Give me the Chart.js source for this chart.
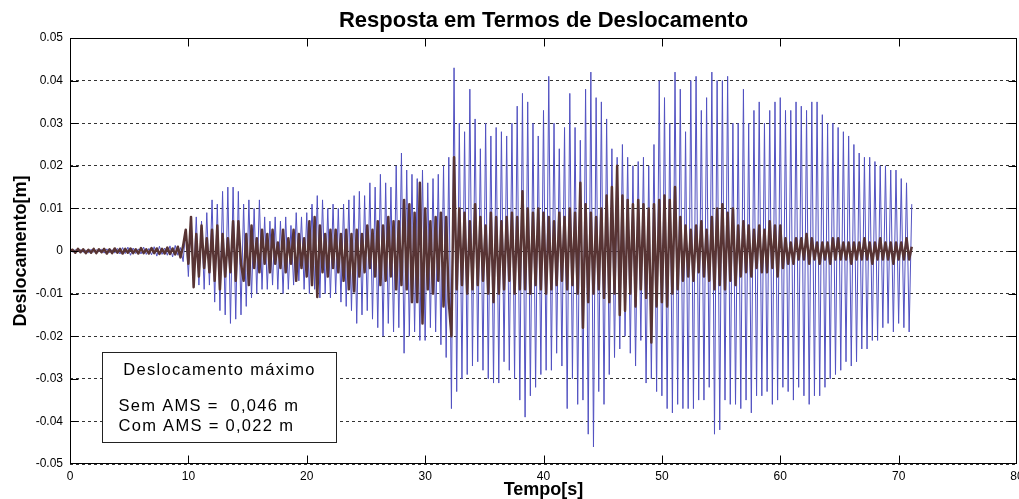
<!DOCTYPE html>
<html>
<head>
<meta charset="utf-8">
<script src="https://cdn.jsdelivr.net/npm/chart.js@4.4.1/dist/chart.umd.min.js"></script>
<style>
  html, body { margin: 0; padding: 0; background: #fff; }
  canvas { display: block; }
</style>
</head>
<body>
<canvas id="c" width="1019" height="499"></canvas>
<script>
// Time between successive response peaks (half periods), in seconds
const SAMPLE_STEP_S = 10 / 45;

// Displacement peaks without the damper (mm), one row per 10 s
const semAmsMm = [
  // 0 - 10 s
  0, -0.2, 0.3, -0.2, 0.3, -0.3, 0.2, -0.4, 0.4, -0.3, 0.3, -0.2, 0.4, -0.5, 0.5, -0.4, 0.3, -0.5,
  0.6, -0.7, 0.8, -0.6, 0.9, -1.0, 0.7, -0.6, 0.5, -0.7, 0.9, -0.8, 0.6, -0.9, 1.0, -1.2, 1.1, -0.8, 0.7, -1.0, 1.2, -1.4, 1.3, -1.0, 0.8, -2.5, 5.0,
  // 10 - 20 s
  -6, 8, -7, 8, -8, 7, -9, 9, -8, 12,
  -12, 11, -14, 14, -15, 15, -17, 15, -16, 14,
  -15, 11, -13, 12, -11, 10, -10, 12, -9, 8,
  -9, 7, -8, 8, -9, 7, -10, 8, -9, 6,
  -8, 9, -7, 8, -9,
  // 20 - 30 s
  9, -10, 11, -9, 13, -11, 12, -10, 10, -11,
  11, -10, 10, -12, 11, -13, 12, -14, 13, -17,
  14, -15, 13, -14, 16, -16, 15, -18, 18, -20,
  16, -17, 15, -19, 20, -18, 23, -24, 19, -20,
  18, -19, 17, -21, 19,
  // 30 - 40 s
  -21, 16, -18, 17, -19, 18, -22, 20, -25, 22,
  -37, 43, -33, 30, -30, 28, -29, 38, -27, 31,
  -26, 24, -28, 30, -30, 27, -31, 29, -31, 28,
  -26, 27, -28, 30, -30, 34, -35, 37, -39, 35,
  -34, 30, -32, 27, -29,
  // 40 - 50 s
  33, -28, 41, -28, 30, -24, 24, -27, 29, -37,
  37, -30, 29, -36, 26, -35, 38, -43, 42, -46,
  36, -33, 35, -36, 31, -29, 24, -25, 22, -23,
  25, -20, 22, -24, 20, -27, 21, -21, 22, -31,
  20, -30, 25, -33, 40,
  // 50 - 60 s
  -34, 36, -37, 30, -38, 42, -36, 38, -37, 28,
  -37, 40, -37, 41, -35, 33, -35, 36, -32, 42,
  -43, 40, -42, 40, -35, 41, -36, 30, -36, 30,
  -37, 38, -35, 30, -38, 33, -34, 35, -34, 30,
  -33, 33, -36, 35, -35,
  // 60 - 71 s
  36, -32, 33, -33, 33, -35, 35, -32, 34, -34,
  33, -36, 35, -34, 35, -34, 32, -32, 30, -30,
  30, -29, 29, -28, 28, -26, 27, -27, 25, -26,
  23, -23, 22, -23, 22, -21, 21, -21, 20, -18,
  20, -17, 19, -19, 19, -17, 17, -18, 16, -19,
  11
];

// Displacement peaks with the damper (mm), one row per 10 s
const comAmsMm = [
  // 0 - 10 s
  0, 0.3, -0.4, 0.5, -0.3, 0.4, -0.5, 0.3, -0.4, 0.5,
  -0.5, 0.4, -0.3, 0.5, -0.6, 0.4, -0.5, 0.6, -0.4, 0.5,
  -0.6, 0.5, -0.4, 0.6, -0.5, 0.4, -0.6, 0.7, -0.5, 0.4,
  -0.6, 0.7, -0.5, 0.6, -0.7, 0.5, -0.6, 0.8, -0.7, 0.6,
  -0.8, 1.0, -1.5, 1.2, 5,
  // 10 - 20 s
  -3, 8, -8.5, 4, -6, 6, -4, 3, -5, 5,
  -7, 6, -9, 4, -6, 3, -5, 7, -7, 7,
  -3, -7, 4, -8, 6, -4, 3, -5, 5, -3,
  4, -5, 5, -3, 2, -4, 5, -5, 3, -3,
  5, -7, 4, -4, 3,
  // 20 - 30 s
  -6, 7, -8, 8, -10.8, 6, -5, 4, -6, 5,
  -4, 5, -5, 4, -7, 5, -9, 4, -9.5, 5,
  -6, 4, -5, 6, -4, 5, -6, 7, -8, 6,
  -7, 8, -6, 7, -9, 7, -8, 12, -9, 11,
  -12, 9, -12, 16, -17,
  // 30 - 40 s
  10, -9, 7, -10, 8, -7, 9, -13, 8, -12,
  -20, 22, -9, 10, -8, 9, -10, 7, -9, 11,
  -8, 8, -7, 6, -10, 9, -12, 8, -10, 7,
  -9, 8, -7, 9, -10, 8, -9, 14, -9, 10,
  -10, 9, -8, 10, -9,
  // 40 - 50 s
  9, -10, 8, -9, 7, -8, 9, -7, 8, -9,
  10, -8, 9, -10, 16, -18, 11, -12, 9, -10,
  8, -9, 10, -11, 13, -12, 15, -10, 20, -15,
  13, -14, 12, -10, 11, -13, 12, -9, 11, -11,
  10, -21.5, 11, -13, 12,
  // 50 - 60 s
  -12, 13, -13, 12, -10, 15, -9, 8, -7, 6,
  -6, 5, -7, 6, -5, 7, -6, 5, -7, 8,
  -9, 10, -8, 11, -9, 9, -7, 10, -8, 6,
  -6, 7, -5, 6, -6, 5, -4, 6, -5, 5,
  -5, 7, -4, 6, -6,
  // 60 - 71 s
  6, -4, 3, -3, 2, -3, 3, -2, 3, -2,
  4, -3, 3, -2, 2, -3, 2, -2, 2, -3,
  3, -2, 3, -2, 2, -2, 2, -3, 2, -2,
  2, -2, 3, -2, 2, -3, 2, -2, 3, -2,
  2, -2, 2, -3, 2, -2, 2, -2, 3, -2,
  1
];

const xTicks = [0, 10, 20, 30, 40, 50, 60, 70, 80];
const yTicks = [-0.05, -0.04, -0.03, -0.02, -0.01, 0, 0.01, 0.02, 0.03, 0.04, 0.05];

const chartTitle = 'Resposta em Termos de Deslocamento';
const xTitle = 'Tempo[s]';
const yTitle = 'Deslocamento[m]';
const boxTitle = 'Deslocamento máximo';
const boxLines = ['Sem AMS =  0,046 m', 'Com AMS = 0,022 m'];

const toSeries = mm => mm.map((v, i) => ({ x: i * SAMPLE_STEP_S, y: v / 1000 }));

const FONT = '"Liberation Sans", Arial, Helvetica, sans-serif';
Chart.defaults.font.family = FONT;
Chart.defaults.color = '#000';

// White page behind everything
const whiteBackground = {
  id: 'whiteBackground',
  beforeDraw(chart) {
    const { ctx, width, height } = chart;
    ctx.save();
    ctx.fillStyle = '#fff';
    ctx.fillRect(0, 0, width, height);
    ctx.restore();
  }
};

// Title centred over the plot area
const plotTitle = {
  id: 'plotTitle',
  afterDraw(chart) {
    const { ctx, chartArea: a } = chart;
    ctx.save();
    ctx.fillStyle = '#000';
    ctx.font = 'bold 22px ' + FONT;
    ctx.textAlign = 'center';
    ctx.textBaseline = 'alphabetic';
    ctx.fillText(chartTitle, (a.left + a.right) / 2, 27);
    ctx.restore();
  }
};

// Axes box with inward tick marks on all four sides
const axesBox = {
  id: 'axesBox',
  afterDatasetsDraw(chart) {
    const { ctx, chartArea: a, scales: { x, y } } = chart;
    const L = Math.round(a.left) + 0.5, R = Math.round(a.right) - 0.5;
    const T = Math.round(a.top) + 0.5, B = Math.round(a.bottom) - 0.5;
    ctx.save();
    ctx.strokeStyle = '#000';
    ctx.lineWidth = 1;
    ctx.strokeRect(L, T, R - L, B - T);
    ctx.beginPath();
    xTicks.slice(1, -1).forEach(v => {
      const px = Math.round(x.getPixelForValue(v)) + 0.5;
      ctx.moveTo(px, B); ctx.lineTo(px, B - 8);
      ctx.moveTo(px, T); ctx.lineTo(px, T + 8);
    });
    yTicks.slice(1, -1).forEach(v => {
      const py = Math.round(y.getPixelForValue(v)) + 0.5;
      ctx.moveTo(L, py); ctx.lineTo(L + 8, py);
      ctx.moveTo(R, py); ctx.lineTo(R - 8, py);
    });
    ctx.stroke();
    ctx.restore();
  }
};

// Annotation box with the peak displacements
const peakBox = {
  id: 'peakBox',
  afterDraw(chart) {
    const { ctx, chartArea: a } = chart;
    const bx = Math.round(a.left) + 32.5, by = Math.round(a.top) + 314.5;
    const bw = 234, bh = 90;
    ctx.save();
    ctx.fillStyle = '#fff';
    ctx.fillRect(bx, by, bw, bh);
    ctx.strokeStyle = '#222';
    ctx.lineWidth = 1;
    ctx.strokeRect(bx, by, bw, bh);
    ctx.fillStyle = '#000';
    ctx.font = '16.5px ' + FONT;
    ctx.letterSpacing = '1.3px';
    ctx.textBaseline = 'alphabetic';
    ctx.textAlign = 'center';
    ctx.fillText(boxTitle, bx + bw / 2, by + 22);
    ctx.textAlign = 'left';
    boxLines.forEach((line, i) => ctx.fillText(line, bx + 16, by + 58 + i * 20));
    ctx.restore();
  }
};

new Chart(document.getElementById('c'), {
  type: 'line',
  data: {
    datasets: [
      {
        label: 'Com AMS',
        data: toSeries(comAmsMm),
        borderColor: '#583434',
        borderWidth: 2.5,
        borderJoinStyle: 'round',
        pointRadius: 0,
        tension: 0,
        order: 1
      },
      {
        label: 'Sem AMS',
        data: toSeries(semAmsMm),
        borderColor: '#5252c2',
        borderWidth: 1,
        pointRadius: 0,
        tension: 0,
        order: 2
      }
    ]
  },
  options: {
    responsive: false,
    animation: false,
    devicePixelRatio: 1,
    events: [],
    layout: { padding: { left: 0, right: 2, top: 38, bottom: 0 } },
    plugins: {
      legend: { display: false },
      tooltip: { enabled: false },
      title: { display: false }
    },
    scales: {
      x: {
        type: 'linear',
        min: 0,
        max: 80,
        afterBuildTicks: s => { s.ticks = xTicks.map(v => ({ value: v })); },
        ticks: {
          color: '#000',
          font: { size: 12 },
          padding: 5,
          maxRotation: 0,
          autoSkip: false,
          callback: v => String(v)
        },
        grid: { display: false, drawTicks: false },
        border: { display: false },
        title: {
          display: true,
          text: xTitle,
          color: '#000',
          font: { size: 18, weight: 'bold', lineHeight: 1 },
          padding: { top: 0, bottom: 0 }
        },
        afterFit: s => { s.height = 35; s.paddingLeft = 0; s.paddingRight = 0; }
      },
      y: {
        type: 'linear',
        min: -0.05,
        max: 0.05,
        afterBuildTicks: s => { s.ticks = yTicks.map(v => ({ value: v })); },
        ticks: {
          color: '#000',
          font: { size: 12 },
          padding: 7,
          autoSkip: false,
          callback: v => (Math.abs(v) < 1e-9 ? '0' : v.toFixed(2))
        },
        grid: { color: '#333', lineWidth: 1, drawTicks: false },
        border: { display: false, dash: [3, 3] },
        title: {
          display: true,
          text: yTitle,
          color: '#000',
          font: { size: 18, weight: 'bold', lineHeight: 1 },
          padding: { top: 12, bottom: 0 }
        },
        afterFit: s => { s.width = 70; s.paddingTop = 0; s.paddingBottom = 0; }
      }
    }
  },
  plugins: [whiteBackground, axesBox, peakBox, plotTitle]
});
</script>
</body>
</html>
